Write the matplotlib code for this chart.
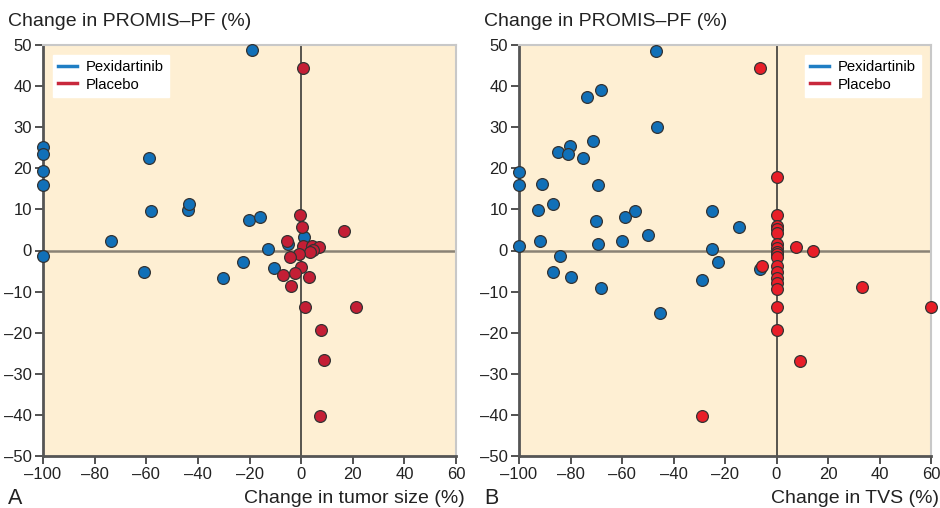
import numpy as np
import matplotlib.pyplot as plt

plt.rcParams['font.family'] = ['Liberation Sans', 'DejaVu Sans']

# Panel A: change in tumor size vs change in PROMIS-PF
pexi_tumor_x = [-100, -100, -100, -100, -100, -73.6, -60.9, -58.9, -58.1, -43.8, -43.4,
                -19.0, -30.4, -20.2, -15.9, -12.8, -22.5, -10.5, 1.3, -5.0]
pexi_tumor_y = [25.2, 23.5, 19.3, 15.9, -1.3, 2.3, -5.2, 22.5, 9.6, 9.8, 11.3,
                48.8, -6.6, 7.4, 8.1, 0.4, -2.8, -4.3, 3.4, 1.5]
plac_tumor_x = [0.8, -0.4, 0.5, 16.7, -5.3, 0.8, 4.3, 6.9, 4.7, 3.5, -0.8, -4.3, -0.1,
                -2.3, -7.1, 3.2, -3.9, 1.5, 21.3, 7.8, 8.9, 7.4]
plac_tumor_y = [44.4, 8.6, 5.8, 4.8, 2.3, 1.2, 1.1, 0.9, 0.1, -0.4, -0.8, -1.7, -3.9,
                -5.4, -6.0, -6.4, -8.6, -13.7, -13.7, -19.3, -26.6, -40.3]

# Panel B: change in TVS vs change in PROMIS-PF
pexi_tvs_x = [-46.7, -73.5, -68.3, -46.4, -71.4, -80.1, -85.0, -81.1, -75.1, -100, -100,
              -91.2, -69.2, -92.5, -86.7, -55.1, -58.9, -70.2, -50.0, -100, -92.0, -69.3,
              -60.0, -84.2, -86.9, -79.9, -68.2, -45.1, -28.8, -25.2, -25.2, -22.7, -14.4,
              -6.3]
pexi_tvs_y = [48.6, 37.4, 39.0, 30.0, 26.6, 25.4, 23.9, 23.5, 22.6, 19.1, 15.9,
              16.3, 15.9, 9.9, 11.2, 9.6, 8.1, 7.2, 3.8, 1.2, 2.2, 1.6,
              2.2, -1.3, -5.2, -6.4, -9.1, -15.3, -7.1, 9.7, 0.4, -2.7, 5.6,
              -4.5]
plac_tvs_x = [-6.4, 0, 0, 0, 0, 0, 0, 0, 0, 0, 0, 7.6, 14.0, -5.5, 0, 0, 0, 0, 0, 0, 0,
              9.0, 33.1, 60.1, -28.8]
plac_tvs_y = [44.3, 18.0, 8.6, 6.0, 5.2, 4.3, 1.7, 0.5, -0.3, -0.9, -1.5, 0.9, -0.2, -3.8,
              -3.8, -5.2, -6.6, -8.0, -9.4, -13.7, -19.4, -26.8, -9.0, -13.7, -40.2]

xticks = [-100, -80, -60, -40, -20, 0, 20, 40, 60]
yticks = [-50, -40, -30, -20, -10, 0, 10, 20, 30, 40, 50]

bg = '#FEEFD3'
blue = '#1170B8'
blue_line = '#1F7EC4'
red_a = '#C41E35'
red_b = '#E81E28'
red_line = '#C8283C'
dark = '#333333'

fig = plt.figure(figsize=(9.4, 5.08), dpi=100)
axA = fig.add_axes([43/940, 52/508, 413/940, 411/508])
axB = fig.add_axes([519/940, 52/508, 412/940, 411/508])


def style_axes(ax, xlab, letter, legend_loc):
    ax.set_facecolor(bg)
    ax.set_xlim(-100, 60)
    ax.set_ylim(-50, 50)
    ax.set_xticks(xticks)
    ax.set_yticks(yticks)
    ax.set_xticklabels([str(t).replace('-', '\u2013') for t in xticks])
    ax.set_yticklabels([str(t).replace('-', '\u2013') for t in yticks])
    ax.tick_params(direction='out', length=6, width=1.2, color=dark, labelsize=12,
                   labelcolor='#222222', pad=2)
    for s in ['left', 'bottom']:
        ax.spines[s].set_color('#555555')
        ax.spines[s].set_linewidth(2)
    for s in ['top', 'right']:
        ax.spines[s].set_color('#C8C8C8')
        ax.spines[s].set_linewidth(1.5)
    ax.axhline(0, color='#8A8275', lw=1.8, zorder=1)
    ax.axvline(0, color='#2A2A2A', lw=1.1, zorder=1)
    ax.plot([], [], color=blue_line, lw=2.5, label='Pexidartinib')
    ax.plot([], [], color=red_line, lw=2.5, label='Placebo')
    leg = ax.legend(loc=legend_loc, frameon=True, fancybox=False, fontsize=10.7,
                    handlelength=1.3, handletextpad=0.6, borderpad=0.35,
                    labelspacing=0.25, borderaxespad=0.65)
    leg.get_frame().set_facecolor('white')
    leg.get_frame().set_edgecolor('white')
    leg.get_frame().set_alpha(1)
    ax.text(-0.085, 1.046, 'Change in PROMIS\u2013PF (%)', transform=ax.transAxes,
            fontsize=14, ha='left', va='baseline', color='#222222')
    ax.text(1.02, -0.114, xlab, transform=ax.transAxes, fontsize=14, ha='right',
            va='baseline', color='#222222')
    ax.text(-0.085, -0.116, letter, transform=ax.transAxes, fontsize=15.5, ha='left',
            va='baseline', color='#222222')


axA.scatter(pexi_tumor_x, pexi_tumor_y, s=72, color=blue, edgecolors=dark,
            linewidths=0.9, zorder=3, clip_on=False)
axA.scatter(plac_tumor_x, plac_tumor_y, s=72, color=red_a, edgecolors=dark,
            linewidths=0.9, zorder=4, clip_on=False)
style_axes(axA, 'Change in tumor size (%)', 'A', 'upper left')

axB.scatter(pexi_tvs_x, pexi_tvs_y, s=72, color=blue, edgecolors=dark,
            linewidths=0.9, zorder=3, clip_on=False)
axB.scatter(plac_tvs_x, plac_tvs_y, s=72, color=red_b, edgecolors=dark,
            linewidths=0.9, zorder=4, clip_on=False)
style_axes(axB, 'Change in TVS (%)', 'B', 'upper right')

plt.savefig('out.png', dpi=100)
